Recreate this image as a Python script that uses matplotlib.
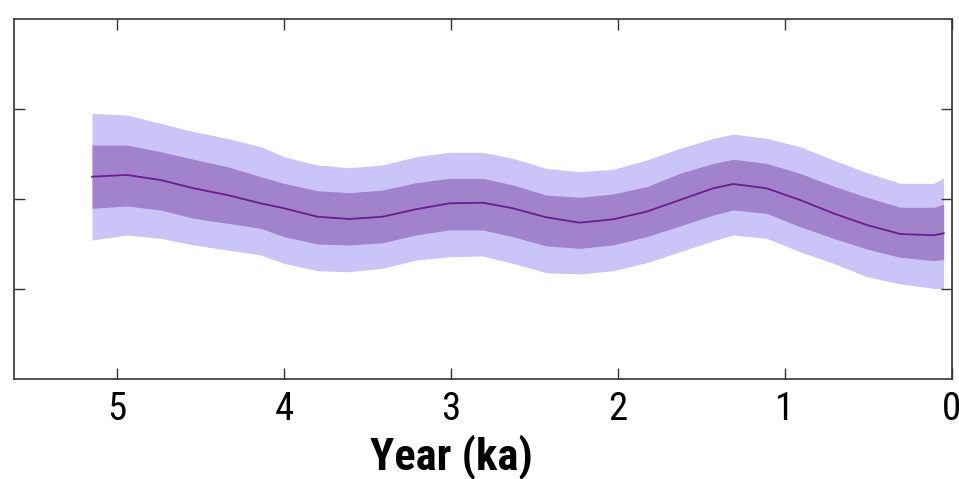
import numpy as np
import matplotlib
matplotlib.use("Agg")
import matplotlib.pyplot as plt

plt.rcParams['font.family'] = ['Roboto Condensed', 'Roboto', 'DejaVu Sans']

# age (ka) and the reconstructed series (median with 1 and 2 sigma bands)
age = [5.15, 4.94, 4.74, 4.54, 4.34, 4.14, 4.00, 3.80, 3.61, 3.41, 3.21, 3.01, 2.81,
       2.63, 2.43, 2.23, 2.03, 1.83, 1.63, 1.43, 1.31, 1.11, 0.91, 0.71, 0.51, 0.31,
       0.11, 0.05]
median = [0.248, 0.267, 0.211, 0.119, 0.044, -0.048, -0.103, -0.197, -0.222, -0.197,
          -0.114, -0.048, -0.041, -0.103, -0.203, -0.263, -0.226, -0.141, -0.011, 0.119,
          0.167, 0.119, -0.011, -0.159, -0.289, -0.389, -0.403, -0.381]
sig1_hi = [0.600, 0.600, 0.526, 0.441, 0.359, 0.248, 0.174, 0.092, 0.070, 0.100,
           0.181, 0.230, 0.230, 0.156, 0.044, 0.019, 0.056, 0.137, 0.285, 0.396,
           0.441, 0.396, 0.285, 0.144, 0.019, -0.092, -0.092, -0.056]
sig1_lo = [-0.103, -0.078, -0.122, -0.215, -0.270, -0.326, -0.419, -0.500, -0.511, -0.486,
           -0.400, -0.344, -0.344, -0.419, -0.522, -0.548, -0.511, -0.419, -0.300, -0.178,
           -0.122, -0.159, -0.308, -0.437, -0.556, -0.648, -0.685, -0.674]
sig2_hi = [0.952, 0.933, 0.841, 0.748, 0.674, 0.581, 0.470, 0.378, 0.348, 0.378,
           0.470, 0.519, 0.519, 0.452, 0.341, 0.303, 0.330, 0.433, 0.563, 0.674,
           0.722, 0.674, 0.581, 0.433, 0.292, 0.174, 0.174, 0.237]
sig2_lo = [-0.456, -0.400, -0.437, -0.511, -0.567, -0.622, -0.715, -0.797, -0.808, -0.770,
           -0.679, -0.641, -0.633, -0.715, -0.819, -0.833, -0.797, -0.708, -0.586, -0.463,
           -0.400, -0.437, -0.586, -0.715, -0.863, -0.944, -0.993, -1.000]

xticks = [5, 4, 3, 2, 1, 0]
yticks = [-1, 0, 1]

fig = plt.figure(figsize=(9.59, 4.79), dpi=100)
ax = fig.add_axes([0.0141, 0.2088, 0.9786, 0.7515])

ax.fill_between(age, sig2_lo, sig2_hi, color='#cbc4f8', lw=0)
ax.fill_between(age, sig1_lo, sig1_hi, color='#a183cb', lw=0)
ax.plot(age, median, color='#6b1d8c', lw=1.3)

ax.set_xlim(5.62, 0)
ax.set_ylim(-2, 2)
ax.set_xticks(xticks)
ax.set_yticks(yticks)
ax.set_yticklabels([])
ax.tick_params(direction='in', length=8, width=1, top=True, right=True,
               labelsize=28, pad=9, color='#333333')
for s in ax.spines.values():
    s.set_linewidth(1.2)
    s.set_color('#333333')

fig.text(451 / 959, 1 - 470 / 479, 'Year (ka)', fontsize=32, fontweight='bold',
         ha='center', va='baseline')

fig.savefig('out.png', dpi=100)
